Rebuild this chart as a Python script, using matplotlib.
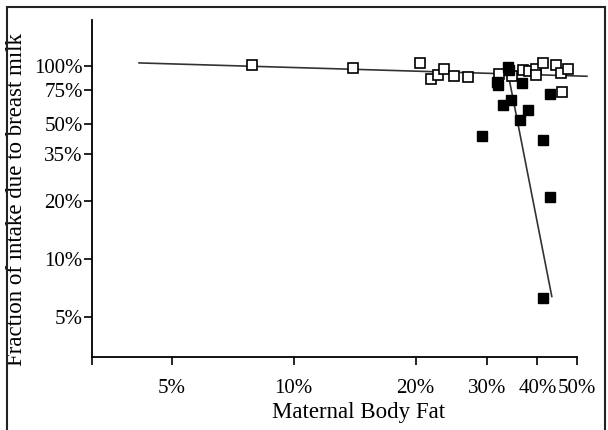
import numpy as np
import matplotlib
matplotlib.use("Agg")
import matplotlib.pyplot as plt
from matplotlib.patches import Rectangle

plt.rcParams['font.family'] = ['Liberation Serif', 'DejaVu Serif']

# open squares
open_x = [7.9, 14.0, 20.5, 21.8, 22.7, 23.5, 24.9, 26.9, 32.1, 34.6,
          36.8, 38.2, 39.7, 39.7, 41.2, 44.5, 45.8, 47.6, 46.0]
open_y = [102, 98.4, 103.3, 86.3, 89.8, 96.5, 88.7, 88.0, 91.6, 88.7,
          95.3, 94.5, 96.5, 89.8, 104, 102, 92.3, 96.5, 73.5]

# filled squares
filled_x = [33.8, 34.0, 31.7, 32.0, 36.6, 42.9, 32.8, 34.4, 38.0, 36.2,
            41.2, 29.1, 43.0, 41.2]
filled_y = [99, 95.5, 82.8, 79.6, 81.9, 71.5, 63.2, 67.1, 59, 52.7,
            41.5, 43.7, 21.1, 6.3]

# fitted lines (endpoints)
fit1_x = [4.15, 53.0]
fit1_y = [104, 88.7]
fit2_x = [33.7, 43.4]
fit2_y = [96, 6.4]

xticks = [5, 10, 20, 30, 40, 50]
yticks = [5, 10, 20, 35, 50, 75, 100]

fig = plt.figure(figsize=(6.08, 4.30), dpi=100)
ax = fig.add_axes([0.1508, 0.1705, 0.7977, 0.783])

ax.plot(fit1_x, fit1_y, color='#333333', lw=1.2, clip_on=False, zorder=2)
ax.plot(fit2_x, fit2_y, color='#333333', lw=1.2, clip_on=False, zorder=2)
ax.plot(open_x, open_y, ls='none', marker='s', ms=7, mfc='white',
        mec='black', mew=1.2, clip_on=False, zorder=3)
ax.plot(filled_x, filled_y, ls='none', marker='s', ms=7, mfc='black',
        mec='black', clip_on=False, zorder=4)

ax.set_xscale('log')
ax.set_yscale('log')
ax.set_xlim(3.17, 50)
ax.set_ylim(3.12, 173.6)

ax.set_xticks([3.17] + xticks)
ax.set_xticklabels([''] + ['%d%%' % v for v in xticks])
ax.set_yticks(yticks)
ax.set_yticklabels(['%d%%' % v for v in yticks])
ax.minorticks_off()

ax.spines['top'].set_visible(False)
ax.spines['right'].set_visible(False)
for s in ['left', 'bottom']:
    ax.spines[s].set_linewidth(1.3)
ax.tick_params(axis='both', direction='out', length=6, width=1.2,
               labelsize=15, colors='black')
ax.tick_params(axis='x', pad=10)
ax.tick_params(axis='y', pad=0.5)

ax.set_xlabel('Maternal Body Fat', fontsize=16.5)
ax.set_ylabel('Fraction of intake due to breast milk', fontsize=16.5)
ax.xaxis.set_label_coords(0.551, -0.135)
ax.yaxis.set_label_coords(-0.133, 0.466)

fig.patches.append(Rectangle((7 / 608, -0.02), 598 / 608, 1.02 - 7 / 430,
                             transform=fig.transFigure, fill=False,
                             edgecolor='#222222', lw=1.5))

fig.savefig('out.png', dpi=100)
